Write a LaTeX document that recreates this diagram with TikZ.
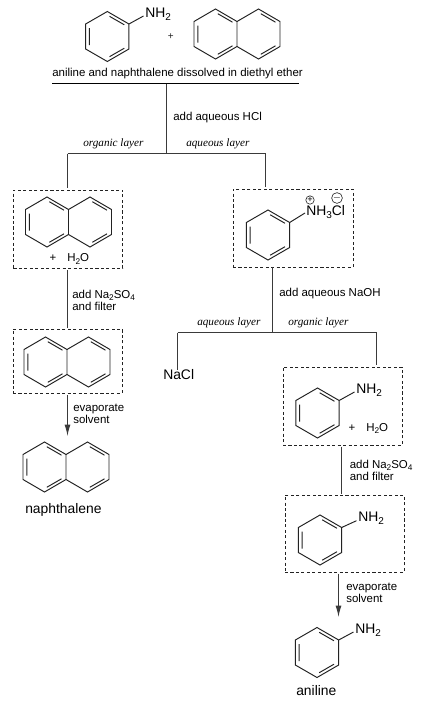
\documentclass[tikz,border=0pt]{standalone}
\usepackage{fontspec}
\setmainfont{Liberation Sans}
\newfontfamily\layerfont{Liberation Serif}
\usetikzlibrary{arrows.meta}
\definecolor{ink}{HTML}{222222}
\definecolor{conn}{HTML}{3A3A3A}
\newcommand{\lowr}[1]{\raisebox{-0.22em}{\scalebox{0.72}{#1}}}
\tikzset{
  x=0.75pt,y=-0.75pt,
  bond/.style={draw=ink,line width=0.72pt,line join=miter},
  link/.style={draw=conn,line width=0.75pt},
  arrowlink/.style={link,-{Latex[length=11.5*0.75pt,width=6*0.75pt]}},
  dashbox/.style={draw=ink,dashed,dash pattern=on 2.3pt off 1.8pt,line width=0.7pt,inner sep=0pt},
  chem/.style={anchor=base west,inner sep=0pt,text=black,font=\fontsize{10.4}{12}\selectfont},
  small/.style={anchor=base west,inner sep=0pt,text=black,font=\fontsize{8.6}{8.9}\selectfont,align=left},
  layer/.style={anchor=base west,inner sep=0pt,text=black,font=\layerfont\itshape\fontsize{8.4}{10}\selectfont},
  charge/.style={circle,draw=ink,line width=0.45pt,inner sep=0pt,minimum size=6.3pt,font=\fontsize{7}{7}\selectfont},
  benzring/.pic={
    \coordinate (-t) at (0,-25);\coordinate (-ur) at (21.65,-12.5);\coordinate (-lr) at (21.65,12.5);
    \coordinate (-b) at (0,25);\coordinate (-ll) at (-21.65,12.5);\coordinate (-ul) at (-21.65,-12.5);
    \draw[bond] (-t)--(-ur)--(-lr)--(-b)--(-ll)--(-ul)--cycle;
    \draw[bond] (-17.9,-8.5)--(-17.9,8.5) (2.2,-20.2)--(17,-11.7) (2.2,20.2)--(17,11.7);
  },
  naphring/.pic={
    \coordinate (-j1) at (0,-12.5);\coordinate (-j2) at (0,12.5);
    \draw[bond] (0,-12.5)--(-21.5,-25)--(-43,-12.5)--(-43,12.5)--(-21.5,25)--(0,12.5)--cycle;
    \draw[bond] (0,-12.5)--(21.5,-25)--(43,-12.5)--(43,12.5)--(21.5,25)--(0,12.5);
    \draw[bond] (-39.2,-8.5)--(-39.2,8.5) (-19.2,-20.3)--(-4.5,-11.8) (-19.2,20.3)--(-4.5,11.8)
      (23.8,-20.3)--(38.5,-11.8) (23.8,20.3)--(38.5,11.8);
  }
}
\begin{document}
\begin{tikzpicture}
\useasboundingbox[fill=white] (0,0) rectangle (421,707);

% starting mixture
\pic (a0) at (107.3,36.5) {benzring};
\node[chem] (nh0) at (145,17) {NH\lowr{2}};
\draw[bond] (a0-ur) -- ([shift={(-1.5,-1)}]nh0.base west);
\node[inner sep=0pt,text=ink,font=\fontsize{7.5}{8}\selectfont] (plus0) at (170.7,37) {+};
\pic (n0) at (237,34) {naphring};
\node[anchor=base west,inner sep=0pt,text=black,font=\fontsize{8.6}{11}\selectfont] (mix) at (52,76) {aniline and naphthalene dissolved in diethyl ether};
\coordinate (rl) at (52,83.5);
\coordinate (rr) at (299,83.5);
\draw[link,draw=black] (rl) -- (rr);

% first separation
\coordinate (t1) at (166.5,83.5);
\coordinate (s1) at (166.5,153.5);
\coordinate (s1l) at (67.5,153.5);
\coordinate (s1r) at (265.5,153.5);
\draw[link] (t1) -- (s1);
\draw[link] (s1l) -- (s1r);
\node[small] (hcl) at (173,120) {add aqueous HCl};
\node[layer] (org1) at (83,146) {organic layer};
\node[layer] (aq1) at (186,146) {aqueous layer};

% left column
\node[dashbox,minimum width=109.5*0.75pt,minimum height=78*0.75pt] (b1) at (68.2,229) {};
\node[dashbox,minimum width=109*0.75pt,minimum height=64*0.75pt] (b2) at (67.5,361) {};
\draw[link] (s1l) -- ([yshift=2*0.75pt]b1.north -| s1l);
\pic (n1) at (68.5,222) {naphring};
\node[inner sep=0pt,anchor=base,text=black,font=\fontsize{8.6}{10}\selectfont] (p1) at (53,261.7) {+};
\node[small] (w1) at (67,261.7) {H\lowr{2}O};
\coordinate (c1) at (67.5,270);
\draw[link] (c1) -- ([yshift=1*0.75pt]c1 |- b2.north);
\node[small] (na1) at (72,310) {add Na\lowr{2}SO\lowr{4}\\and filter};
\pic (n2) at (67,362) {naphring};
\coordinate (c2) at (67.5,395);
\coordinate (c2e) at (67.5,436);
\draw[arrowlink] (c2) -- (c2e);
\node[small] (ev1) at (73,423.5) {evaporate\\solvent};
\pic (n3) at (66,467) {naphring};
\node[chem] (nap) at (25,513) {naphthalene};

% right column, anilinium box
\node[dashbox,minimum width=120*0.75pt,minimum height=78*0.75pt] (b3) at (293,228) {};
\draw[link] (s1r) -- ([yshift=2*0.75pt]b3.north -| s1r);
\pic (a1) at (268,235) {benzring};
\node[chem] (nh3) at (306,215) {NH\lowr{3}Cl};
\draw[bond] (a1-ur) -- ([shift={(-1,-2)}]nh3.base west);
\node[charge] (cp) at (310,200) {+};
\node[charge] (cm) at (337,198) {$-$};
\coordinate (s2) at (272.5,332.5);
\coordinate (s2l) at (177.5,332.5);
\coordinate (s2r) at (376.5,332.5);
\draw[link] (b3.south -| s2) -- (s2);
\draw[link] (s2l) -- (s2r);
\node[small] (naoh) at (279,296) {add aqueous NaOH};
\node[layer] (aq2) at (197,325) {aqueous layer};
\node[layer] (org2) at (288,325) {organic layer};
\node[chem] (nacl) at (163,379) {NaCl};
\draw[link] (s2l) -- ([yshift=-1*0.75pt]nacl.north -| s2l);

% right column, aniline + water box
\node[dashbox,minimum width=119*0.75pt,minimum height=78*0.75pt] (b4) at (342.5,406) {};
\node[dashbox,minimum width=119*0.75pt,minimum height=77*0.75pt] (b5) at (344.5,533.5) {};
\draw[link] (s2r) -- ([yshift=2*0.75pt]b4.north -| s2r);
\pic (a2) at (317.5,413) {benzring};
\node[chem] (nh4) at (356,393) {NH\lowr{2}};
\draw[bond] (a2-ur) -- ([shift={(-1.5,-1)}]nh4.base west);
\node[inner sep=0pt,anchor=base,text=black,font=\fontsize{8.6}{10}\selectfont] (p2) at (352,431) {+};
\node[small] (w2) at (366,431) {H\lowr{2}O};
\coordinate (c3) at (341.5,446.5);
\draw[link] (c3) -- ([yshift=1*0.75pt]c3 |- b5.north);
\node[small] (na2) at (349.5,480) {add Na\lowr{2}SO\lowr{4}\\and filter};
\pic (a3) at (320,540) {benzring};
\node[chem] (nh5) at (358,521.7) {NH\lowr{2}};
\draw[bond] (a3-ur) -- ([shift={(-1.5,-1)}]nh5.base west);
\coordinate (c4) at (338.5,573.5);
\coordinate (c4e) at (338.5,617);
\draw[arrowlink] (c4) -- (c4e);
\node[small] (ev2) at (346,602.5) {evaporate\\solvent};
\pic (a4) at (317,652.5) {benzring};
\node[chem] (nh6) at (355,633) {NH\lowr{2}};
\draw[bond] (a4-ur) -- ([shift={(-1.5,-1)}]nh6.base west);
\node[chem] (ani) at (296,695) {aniline};
\end{tikzpicture}
\end{document}
